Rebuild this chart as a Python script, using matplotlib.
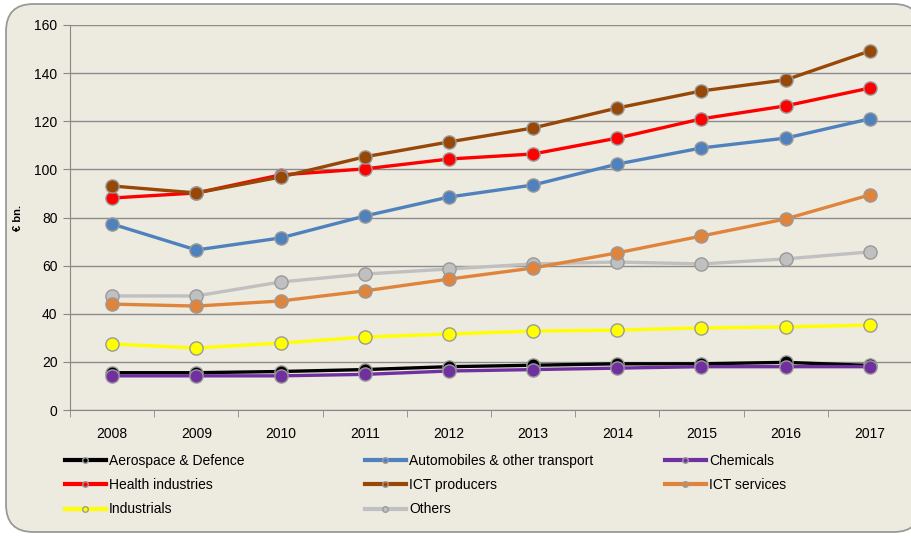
import matplotlib.pyplot as plt
from matplotlib.patches import FancyBboxPatch
from matplotlib.lines import Line2D

plt.rcParams['font.family'] = ['Liberation Sans Narrow', 'Liberation Sans', 'DejaVu Sans']

years = ['2008', '2009', '2010', '2011', '2012', '2013', '2014', '2015', '2016', '2017']

aerospace = [15.5, 15.5, 16.0, 16.8, 18.0, 18.6, 19.2, 19.2, 19.8, 18.5]
automobiles = [77.3, 66.5, 71.5, 80.6, 88.5, 93.5, 102.2, 108.9, 113.0, 121.0]
chemicals = [14.2, 14.2, 14.2, 14.8, 16.2, 16.8, 17.4, 18.0, 18.0, 18.0]
health = [88.1, 90.2, 97.7, 100.2, 104.3, 106.4, 113.0, 121.0, 126.4, 133.8]
ict_producers = [93.1, 90.2, 96.8, 105.2, 111.4, 117.2, 125.5, 132.6, 137.2, 149.2]
ict_services = [44.0, 43.2, 45.3, 49.5, 54.4, 59.0, 65.3, 72.3, 79.4, 89.4]
industrials = [27.4, 25.8, 27.8, 30.3, 31.6, 32.8, 33.2, 34.1, 34.5, 35.3]
others = [47.4, 47.4, 53.2, 56.5, 58.6, 60.7, 61.5, 60.7, 62.8, 65.7]

series = [
    ('Aerospace & Defence', aerospace, '#000000'),
    ('Automobiles & other transport', automobiles, '#4f81bd'),
    ('Chemicals', chemicals, '#7030a0'),
    ('Health industries', health, '#ff0000'),
    ('ICT producers', ict_producers, '#974706'),
    ('ICT services', ict_services, '#e0843c'),
    ('Industrials', industrials, '#ffff00'),
    ('Others', others, '#c0c0c0'),
]
# drawing order: back to front
draw_order = ['Others', 'ICT services', 'Industrials', 'Automobiles & other transport',
              'Health industries', 'ICT producers', 'Aerospace & Defence', 'Chemicals']

bg = '#edeae0'
fig = plt.figure(figsize=(9.12, 5.36), dpi=100)
fig.patch.set_facecolor('white')
# rounded chart frame, running past the right edge
frame = FancyBboxPatch((6 / 912, 4 / 536), 915 / 912, 528 / 536,
                       boxstyle='round,pad=0,rounding_size=0.03',
                       transform=fig.transFigure, facecolor=bg,
                       edgecolor='#9a9a9a', linewidth=1.3, mutation_aspect=912 / 536,
                       zorder=-10)
fig.patches.append(frame)

ax = fig.add_axes([70 / 912, 1 - 410 / 536, 842 / 912, 385 / 536])
ax.set_facecolor(bg)
x = list(range(len(years)))

lookup = {name: (vals, col) for name, vals, col in series}
for name in draw_order:
    vals, col = lookup[name]
    ax.plot(x, vals, color=col, lw=2.4, marker='o', markersize=9.5,
            markerfacecolor=col, markeredgecolor='#9a9a9a', markeredgewidth=1.0,
            zorder=3, clip_on=False)

ax.set_xlim(-0.5, len(years) - 0.5)
ax.set_ylim(0, 160)
ax.set_yticks(range(0, 161, 20))
ax.set_xticks(x)
ax.set_xticklabels(years, fontsize=10)
ax.set_xticks([i - 0.5 for i in range(len(years) + 1)], minor=True)
ax.tick_params(axis='x', which='major', length=0, pad=12)
ax.tick_params(axis='x', which='minor', length=5, color='#888888', direction='out')
ax.tick_params(axis='y', length=5, color='#888888', labelsize=10, pad=4)
ax.grid(axis='y', color='#8c8c8c', lw=1.0)
ax.set_axisbelow(True)
for s in ['top', 'right']:
    ax.spines[s].set_visible(False)
for s in ['left', 'bottom']:
    ax.spines[s].set_color('#888888')
ax.set_ylabel('€ bn.', fontsize=8, fontweight='bold', labelpad=8)

# legend laid out in three fixed columns, filled row by row
for c in range(3):
    items = series[c::3]
    handles = [Line2D([], [], color=col, lw=3, marker='o', markersize=4,
                      markerfacecolor=col, markeredgecolor='#9a9a9a')
               for name, vals, col in items]
    labels = [name for name, vals, col in items]
    leg = fig.legend(handles, labels, loc='upper left',
                     bbox_to_anchor=((59 + 300 * c) / 912, 1 - 448 / 536),
                     frameon=False, fontsize=10, handlelength=3.0, handletextpad=0.2,
                     labelspacing=0.75, borderaxespad=0)

fig.savefig('out.png', dpi=100, facecolor=fig.get_facecolor())
